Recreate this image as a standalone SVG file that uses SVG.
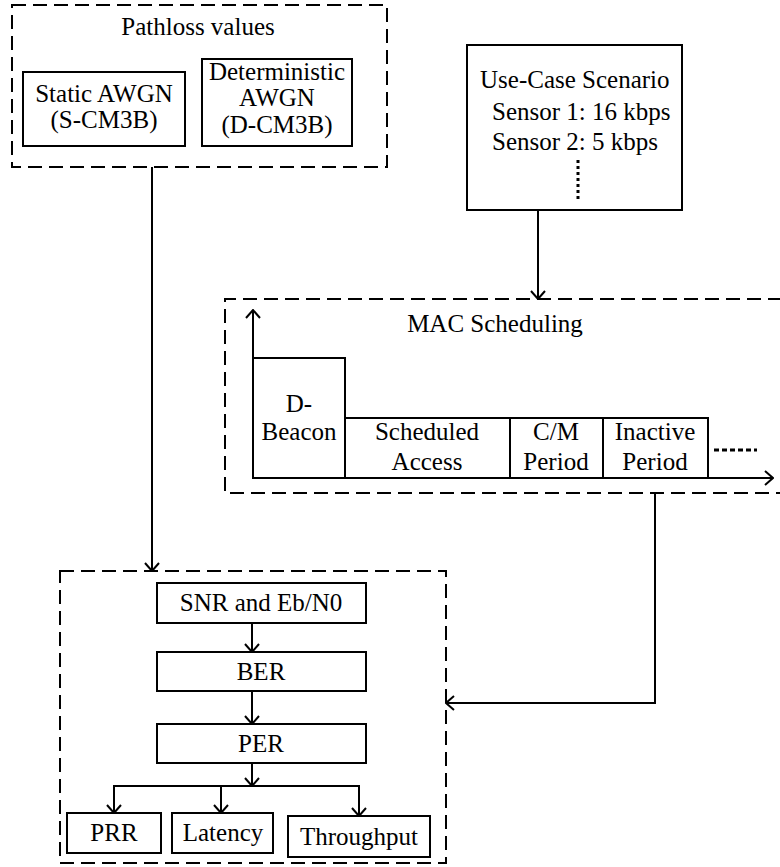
<svg xmlns="http://www.w3.org/2000/svg" width="780" height="867" viewBox="0 0 780 867">
  <defs>
    <style>
      .t { font-size: 25px; fill: #000; }
      .c { text-anchor: middle; }
      .box { fill: #fff; stroke: #000; stroke-width: 2; }
      .dash { fill: none; stroke: #000; stroke-width: 2; stroke-dasharray: 14 7; }
      .ln { fill: none; stroke: #000; stroke-width: 2; }
      .arr { fill: none; stroke: #000; stroke-width: 2; marker-end: url(#head); }
    </style>
    <marker id="head" viewBox="0 0 10 16" refX="9" refY="8" markerWidth="10" markerHeight="16" markerUnits="userSpaceOnUse" orient="auto">
      <path d="M1,1 L9,8 L1,15" fill="none" stroke="#000" stroke-width="2"/>
    </marker>
  </defs>
  <rect width="780" height="867" fill="#fff"/>

  <g font-family="Liberation Serif, DejaVu Serif, serif">
  <!-- Path loss inputs -->
  <g id="pathloss">
    <rect class="dash" x="12" y="5" width="375" height="162"/>
    <text class="t c" x="198" y="35">Pathloss values</text>
  </g>
  <g id="static-awgn">
    <rect class="box" x="23" y="72" width="162" height="74"/>
    <text class="t c" x="104" y="102">Static AWGN</text>
    <text class="t c" x="104" y="128">(S-CM3B)</text>
  </g>
  <g id="deterministic-awgn">
    <rect class="box" x="202" y="59" width="150" height="87"/>
    <text class="t c" x="277" y="80">Deterministic</text>
    <text class="t c" x="277" y="106">AWGN</text>
    <text class="t c" x="277" y="133">(D-CM3B)</text>
  </g>

  <!-- Traffic description -->
  <g id="use-case">
    <rect class="box" x="467" y="45" width="215" height="165"/>
    <text class="t" x="480" y="88">Use-Case Scenario</text>
    <text class="t" x="492" y="120">Sensor 1: 16 kbps</text>
    <text class="t" x="492" y="150">Sensor 2: 5 kbps</text>
    <line x1="578" y1="160" x2="578" y2="202" stroke="#000" stroke-width="3" stroke-dasharray="3 3"/>
  </g>

  <!-- Superframe timing -->
  <g id="mac-scheduling">
    <path class="dash" d="M782,299 H225 V493 H782"/>
    <text class="t c" x="495" y="332">MAC Scheduling</text>
    <line class="arr" x1="253" y1="479" x2="253" y2="310"/>
    <line class="arr" x1="252" y1="478" x2="773" y2="478"/>
  </g>
  <g id="d-beacon">
    <path class="ln" d="M253,478 V358 H345 V478"/>
    <text class="t c" x="299" y="412">D-</text>
    <text class="t c" x="299" y="440">Beacon</text>
  </g>
  <g id="scheduled-access">
    <path class="ln" d="M345,418 H510 V478"/>
    <text class="t c" x="427" y="440">Scheduled</text>
    <text class="t c" x="427" y="470">Access</text>
  </g>
  <g id="cm-period">
    <path class="ln" d="M510,418 H603 V478"/>
    <text class="t c" x="556" y="440">C/M</text>
    <text class="t c" x="556" y="470">Period</text>
  </g>
  <g id="inactive-period">
    <path class="ln" d="M603,418 H708 V478"/>
    <text class="t c" x="655" y="440">Inactive</text>
    <text class="t c" x="655" y="470">Period</text>
    <line x1="714" y1="450" x2="757" y2="450" stroke="#000" stroke-width="3" stroke-dasharray="5 3"/>
  </g>

  <!-- Link performance chain -->
  <g id="performance">
    <rect class="dash" x="60" y="571" width="386" height="292"/>
  </g>
  <g id="snr">
    <rect class="box" x="157" y="583" width="209" height="40"/>
    <text class="t c" x="261" y="611">SNR and Eb/N0</text>
  </g>
  <g id="ber">
    <rect class="box" x="157" y="652" width="209" height="39"/>
    <text class="t c" x="261" y="680">BER</text>
  </g>
  <g id="per">
    <rect class="box" x="157" y="724" width="209" height="39"/>
    <text class="t c" x="261" y="752">PER</text>
  </g>
  <g id="prr">
    <rect class="box" x="67" y="813" width="94" height="40"/>
    <text class="t c" x="114" y="841">PRR</text>
  </g>
  <g id="latency">
    <rect class="box" x="172" y="813" width="101" height="40"/>
    <text class="t c" x="223" y="841">Latency</text>
  </g>
  <g id="throughput">
    <rect class="box" x="288" y="816" width="142" height="41"/>
    <text class="t c" x="359" y="845">Throughput</text>
  </g>
  </g>

  <g id="connectors">
    <line class="arr" x1="152" y1="167" x2="152" y2="571"/>
    <line class="arr" x1="538" y1="210" x2="538" y2="299"/>
    <path class="arr" d="M655,493 V703 H446"/>
    <line class="arr" x1="252" y1="623" x2="252" y2="652"/>
    <line class="arr" x1="252" y1="691" x2="252" y2="724"/>
    <line class="arr" x1="252" y1="763" x2="252" y2="786"/>
    <line class="ln" x1="114" y1="786" x2="359" y2="786"/>
    <line class="arr" x1="114" y1="785" x2="114" y2="813"/>
    <line class="arr" x1="221" y1="785" x2="221" y2="813"/>
    <line class="arr" x1="359" y1="785" x2="359" y2="816"/>
  </g>
</svg>
